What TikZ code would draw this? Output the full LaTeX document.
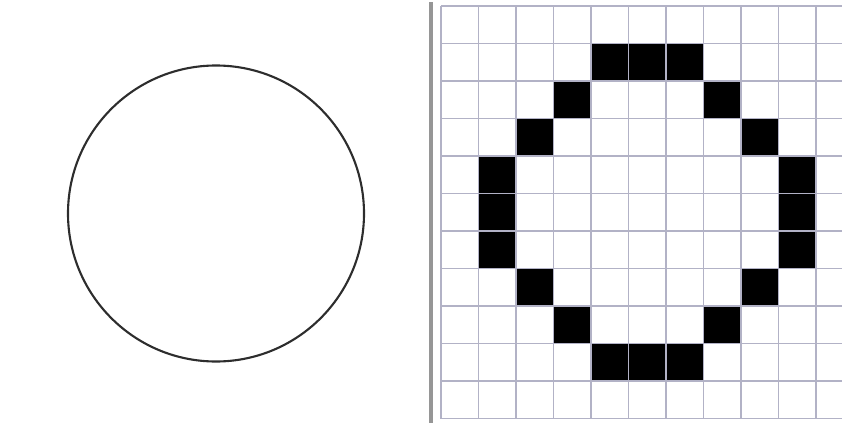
\documentclass[tikz,border=0pt]{standalone}
\usepackage{tikz}
\usepackage{xcolor}
\definecolor{gridline}{RGB}{178,178,198}
\definecolor{divider}{RGB}{150,150,150}
\definecolor{outline}{RGB}{45,45,45}
\begin{document}
\begin{tikzpicture}[x=0.02cm,y=-0.02cm,line cap=butt]
\useasboundingbox (0,0) rectangle (842,423);
% left: the ideal circle
\draw[outline,line width=1.2pt] (216,213.5) circle (148);
% separator
\draw[divider,line width=1.8pt] (431,2) -- (431,423);
% right: rasterised circle
\foreach \k in {0,...,10}
  \draw[gridline,line width=0.6pt] (441+37.5*\k,6) -- (441+37.5*\k,418.5);
\foreach \k in {0,...,11}
  \draw[gridline,line width=0.6pt] (441,6+37.5*\k) -- (842,6+37.5*\k);
\foreach \c/\r in {4/1,5/1,6/1,3/2,7/2,2/3,8/3,1/4,9/4,1/5,9/5,1/6,9/6,2/7,8/7,3/8,7/8,4/9,5/9,6/9}
  \fill[black] (441.8+37.5*\c,6.8+37.5*\r) rectangle ++(35.9,35.9);
\end{tikzpicture}
\end{document}
